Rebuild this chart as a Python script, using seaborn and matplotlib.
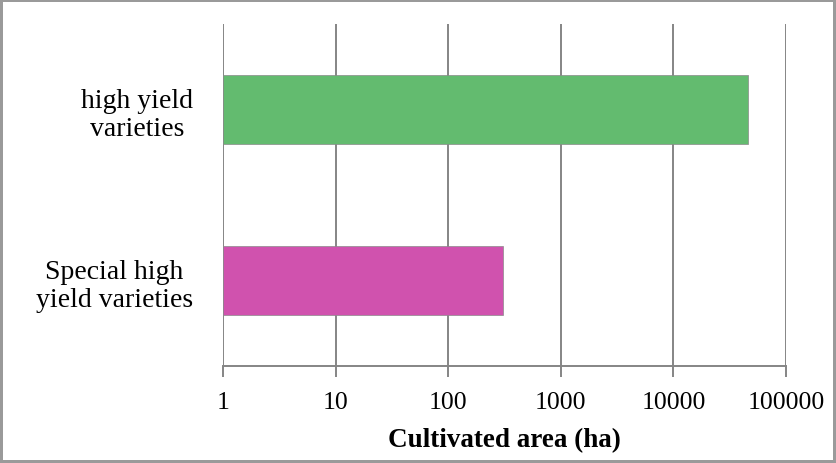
import matplotlib
matplotlib.use('Agg')
import matplotlib.pyplot as plt
import matplotlib.ticker as mticker
import seaborn as sns
import pandas as pd

# values (log axis)
varieties = ['high yield\nvarieties', 'Special high\nyield varieties']
area_ha = [46000, 305]
bar_colors = ['#63bb6f', '#d052ae']
tick_vals = [1, 10, 100, 1000, 10000, 100000]
tick_labels = ['1', '10', '100', '1000', '10000', '100000']

df = pd.DataFrame({'variety': varieties, 'area': area_ha})

sns.set_style('white')
plt.rcParams['font.family'] = ['Liberation Serif', 'DejaVu Serif']

fig = plt.figure(figsize=(8.36, 4.64), dpi=100)
ax = fig.add_axes([0.2667, 0.209, 0.6735, 0.737])
ax.set_xscale('log')

sns.barplot(data=df, x='area', y='variety', hue='variety', palette=bar_colors,
            orient='h', width=0.4, legend=False, ax=ax, saturation=1,
            edgecolor='#8a8a8a', linewidth=0.5, zorder=3)

# bars on a log axis must start at 1, not 0
for p, v in zip(ax.patches, area_ha):
    p.set_x(1)
    p.set_width(v - 1)

ax.set_xlim(1, 100000)
ax.xaxis.set_major_locator(mticker.FixedLocator(tick_vals))
ax.xaxis.set_major_formatter(mticker.FixedFormatter(tick_labels))
ax.xaxis.set_minor_locator(mticker.NullLocator())
ax.grid(axis='x', color='#858585', linewidth=1.4, zorder=0)
ax.grid(axis='y', visible=False)
ax.set_axisbelow(True)

for s in ['top', 'right', 'left']:
    ax.spines[s].set_visible(False)
ax.spines['bottom'].set_color('#858585')
ax.spines['bottom'].set_linewidth(1.4)

ax.tick_params(axis='x', which='major', bottom=True, length=8, width=1.4,
               color='#858585', labelsize=18.5, pad=10, labelcolor='black')
ax.tick_params(axis='y', left=False, labelsize=20, pad=18, labelcolor='black')
for lab in ax.get_yticklabels():
    lab.set_multialignment('center')

ax.set_ylabel('')
ax.set_xlabel('Cultivated area (ha)', fontsize=19.5, fontweight='bold',
              labelpad=10, color='black')

fig.patch.set_edgecolor('#9a9a9a')
fig.patch.set_linewidth(3)

fig.savefig('out.png', dpi=100, edgecolor=fig.get_edgecolor())
